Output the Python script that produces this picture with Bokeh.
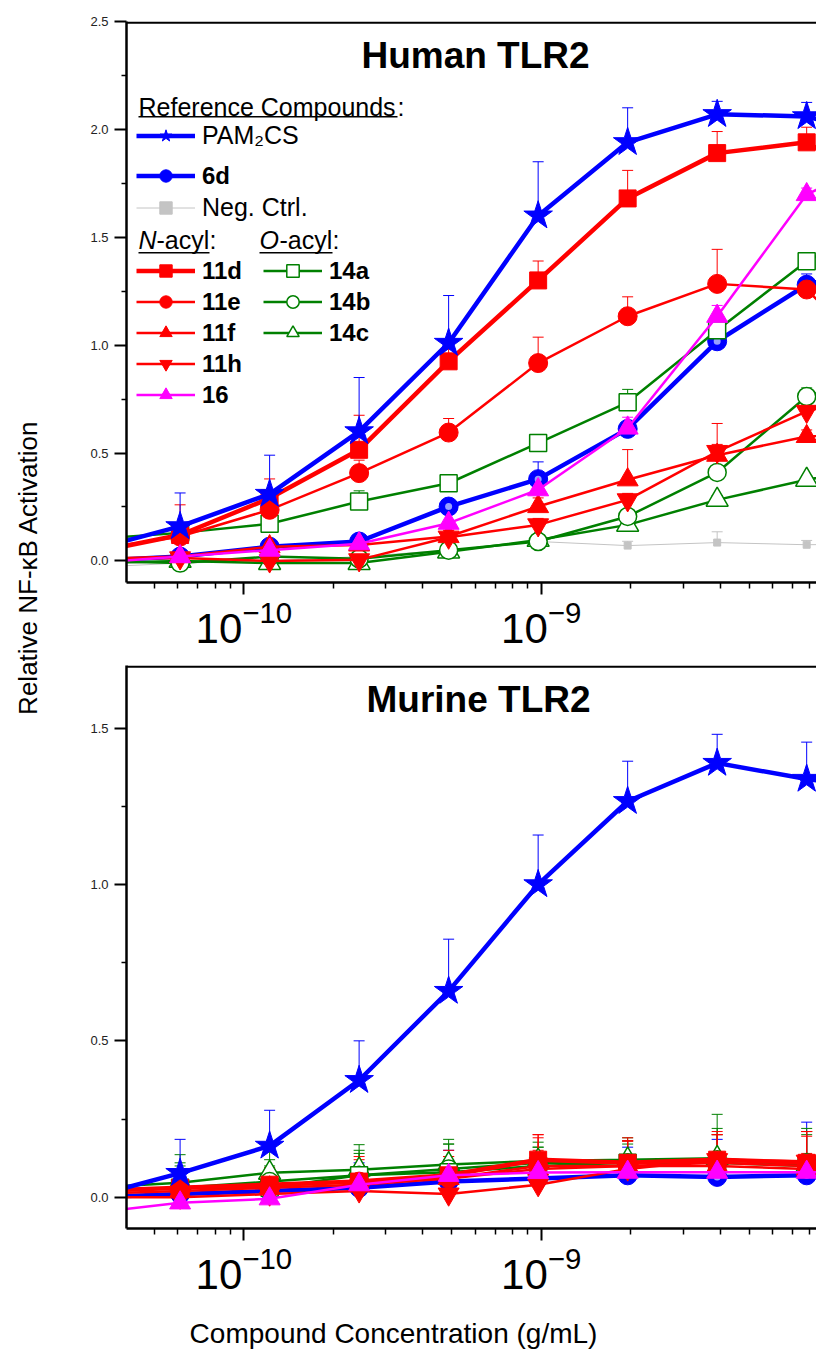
import math
from bokeh.plotting import figure
from bokeh.models import (Range1d, FixedTicker, LogTickFormatter, PrintfTickFormatter,
                          ColumnDataSource, Whisker, TeeHead, Legend, LegendItem, Label,
                          BoxAnnotation)
from bokeh.layouts import row, column
from bokeh.embed import file_html
from bokeh.resources import INLINE

# ---------------- data ----------------
CONC = [3.0517578125e-11, 6.103515625e-11, 1.220703125e-10, 2.44140625e-10, 4.8828125e-10,
        9.765625e-10, 1.953125e-09, 3.90625e-09, 7.8125e-09, 1.5625e-08]

X_TICKS = [1e-10, 1e-9]
X_MINOR = [4e-11, 5e-11, 6e-11, 7e-11, 8e-11, 9e-11,
           2e-10, 3e-10, 4e-10, 5e-10, 6e-10, 7e-10, 8e-10, 9e-10,
           2e-9, 3e-9, 4e-9, 5e-9, 6e-9, 7e-9, 8e-9]
H_TICKS = [0.0, 0.5, 1.0, 1.5, 2.0, 2.5]
H_MINOR = [0.25, 0.75, 1.25, 1.75, 2.25]
M_TICKS = [0.0, 0.5, 1.0, 1.5]
M_MINOR = [0.25, 0.75, 1.25]

# Human TLR2
H_PAM2CS = [0.05, 0.16, 0.31, 0.60, 1.01, 1.60, 1.94, 2.07, 2.06, 1.95]
H_PAM2CS_ERR = [0.05, 0.155, 0.18, 0.25, 0.22, 0.25, 0.16, 0.06, 0.065, 0.05]
H_6D = [0.0, 0.02, 0.066, 0.09, 0.252, 0.379, 0.612, 1.018, 1.28, 1.40]
H_6D_ERR = [0.02, 0.02, 0.02, 0.02, 0.03, 0.08, 0.03, 0.03, 0.05, 0.03]
H_NEG = [-0.03, -0.01, 0.0, 0.02, 0.05, 0.09, 0.071, 0.085, 0.075, 0.08]
H_NEG_ERR = [0.01, 0.01, 0.01, 0.01, 0.02, 0.03, 0.02, 0.05, 0.02, 0.02]
H_11D = [0.037, 0.12, 0.29, 0.515, 0.925, 1.30, 1.68, 1.89, 1.94, 1.70]
H_11D_ERR = [0.05, 0.14, 0.09, 0.16, 0.08, 0.09, 0.13, 0.10, 0.07, 0.05]
H_11E = [0.05, 0.113, 0.237, 0.407, 0.595, 0.917, 1.134, 1.284, 1.258, 0.85]
H_11E_ERR = [0.03, 0.05, 0.05, 0.06, 0.065, 0.12, 0.09, 0.16, 0.05, 0.05]
H_11F = [0.01, 0.02, 0.066, 0.074, 0.113, 0.252, 0.376, 0.49, 0.577, 0.60]
H_11F_ERR = [0.02, 0.03, 0.03, 0.04, 0.03, 0.04, 0.14, 0.05, 0.03, 0.03]
H_11H = [0.01, 0.014, 0.0, 0.005, 0.11, 0.167, 0.283, 0.507, 0.693, 0.80]
H_11H_ERR = [0.02, 0.03, 0.03, 0.03, 0.03, 0.03, 0.03, 0.13, 0.03, 0.03]
H_16 = [-0.01, 0.02, 0.05, 0.08, 0.175, 0.33, 0.616, 1.134, 1.698, 1.90]
H_16_ERR = [0.02, 0.02, 0.03, 0.03, 0.04, 0.04, 0.05, 0.05, 0.03, 0.03]
H_14A = [0.10, 0.13, 0.172, 0.275, 0.36, 0.546, 0.735, 1.069, 1.389, 1.60]
H_14A_ERR = [0.02, 0.03, 0.03, 0.05, 0.03, 0.04, 0.06, 0.03, 0.03, 0.03]
H_14B = [0.0, -0.01, 0.02, 0.01, 0.05, 0.09, 0.206, 0.41, 0.762, 0.90]
H_14B_ERR = [0.01, 0.02, 0.02, 0.02, 0.02, 0.02, 0.02, 0.03, 0.04, 0.03]
H_14C = [-0.01, 0.0, -0.01, -0.01, 0.043, 0.097, 0.167, 0.283, 0.376, 0.45]
H_14C_ERR = [0.01, 0.02, 0.02, 0.02, 0.02, 0.02, 0.02, 0.02, 0.02, 0.02]

# Murine TLR2
M_PAM2CS = [0.0, 0.077, 0.164, 0.374, 0.659, 1.0, 1.266, 1.388, 1.337, 1.30]
M_PAM2CS_ERR = [0.05, 0.108, 0.114, 0.126, 0.166, 0.158, 0.128, 0.092, 0.118, 0.10]
M_6D = [0.0, 0.01, 0.02, 0.03, 0.05, 0.06, 0.07, 0.065, 0.07, 0.07]
M_6D_ERR = [0.03, 0.05, 0.06, 0.08, 0.10, 0.08, 0.09, 0.12, 0.17, 0.10]
M_11D = [0.02, 0.03, 0.04, 0.05, 0.07, 0.12, 0.11, 0.12, 0.11, 0.10]
M_11D_ERR = [0.03, 0.06, 0.05, 0.07, 0.08, 0.08, 0.07, 0.09, 0.10, 0.05]
M_11E = [0.02, 0.03, 0.035, 0.05, 0.06, 0.10, 0.10, 0.11, 0.10, 0.10]
M_11E_ERR = [0.03, 0.05, 0.06, 0.08, 0.07, 0.10, 0.09, 0.09, 0.11, 0.05]
M_11F = [0.01, 0.02, 0.03, 0.04, 0.06, 0.09, 0.10, 0.10, 0.09, 0.09]
M_11F_ERR = [0.03, 0.04, 0.05, 0.06, 0.07, 0.06, 0.08, 0.04, 0.05, 0.05]
M_11H = [0.0, 0.0, 0.01, 0.02, 0.01, 0.04, 0.09, 0.12, 0.115, 0.11]
M_11H_ERR = [0.03, 0.04, 0.05, 0.07, 0.08, 0.15, 0.09, 0.08, 0.08, 0.05]
M_16 = [-0.05, -0.018, -0.005, 0.04, 0.07, 0.079, 0.08, 0.08, 0.08, 0.08]
M_16_ERR = [0.02, 0.03, 0.03, 0.04, 0.05, 0.04, 0.05, 0.06, 0.05, 0.03]
M_14A = [0.02, 0.03, 0.03, 0.07, 0.08, 0.10, 0.11, 0.11, 0.10, 0.10]
M_14A_ERR = [0.03, 0.07, 0.07, 0.07, 0.09, 0.06, 0.07, 0.09, 0.10, 0.05]
M_14B = [0.02, 0.03, 0.05, 0.07, 0.09, 0.11, 0.11, 0.12, 0.11, 0.10]
M_14B_ERR = [0.03, 0.08, 0.07, 0.08, 0.08, 0.05, 0.06, 0.10, 0.10, 0.05]
M_14C = [0.03, 0.046, 0.078, 0.088, 0.105, 0.116, 0.12, 0.125, 0.10, 0.10]
M_14C_ERR = [0.03, 0.09, 0.08, 0.08, 0.08, 0.06, 0.07, 0.14, 0.12, 0.05]

HUMAN = {
    "Neg. Ctrl.": (H_NEG, H_NEG_ERR), "6d": (H_6D, H_6D_ERR),
    "14c": (H_14C, H_14C_ERR), "14b": (H_14B, H_14B_ERR), "14a": (H_14A, H_14A_ERR),
    "11h": (H_11H, H_11H_ERR), "11f": (H_11F, H_11F_ERR), "11e": (H_11E, H_11E_ERR),
    "11d": (H_11D, H_11D_ERR), "16": (H_16, H_16_ERR), "PAM2CS": (H_PAM2CS, H_PAM2CS_ERR),
}
MURINE = {
    "6d": (M_6D, M_6D_ERR),
    "14c": (M_14C, M_14C_ERR), "14b": (M_14B, M_14B_ERR), "14a": (M_14A, M_14A_ERR),
    "11h": (M_11H, M_11H_ERR), "11f": (M_11F, M_11F_ERR), "11e": (M_11E, M_11E_ERR),
    "11d": (M_11D, M_11D_ERR), "16": (M_16, M_16_ERR), "PAM2CS": (M_PAM2CS, M_PAM2CS_ERR),
}

# ---------------- styles ----------------
FONT = "Liberation Sans"
BLUE, RED, MAG, GREEN, GREY = "#0000FF", "#FF0000", "#FF00FF", "#008000", "#C4C4C4"
STYLE = {
    "PAM2CS": dict(color=BLUE, marker="star", size=30, lw=4.5, fill=BLUE, mlw=1),
    "6d": dict(color=BLUE, marker="circle", size=19, lw=4.5, fill=BLUE, mlw=1),
    "Neg. Ctrl.": dict(color=GREY, marker="square", size=7, lw=1, fill=GREY, mlw=1),
    "11d": dict(color=RED, marker="square", size=17, lw=4.5, fill=RED, mlw=1),
    "11e": dict(color=RED, marker="circle", size=19, lw=2.5, fill=RED, mlw=1),
    "11f": dict(color=RED, marker="triangle", size=21, lw=2.5, fill=RED, mlw=1),
    "11h": dict(color=RED, marker="inverted_triangle", size=21, lw=2.5, fill=RED, mlw=1),
    "16": dict(color=MAG, marker="triangle", size=21, lw=2.5, fill=MAG, mlw=1),
    "14a": dict(color=GREEN, marker="square", size=17, lw=2.5, fill="white", mlw=1.5),
    "14b": dict(color=GREEN, marker="circle", size=18, lw=2.5, fill="white", mlw=1.5),
    "14c": dict(color=GREEN, marker="triangle", size=22, lw=2.5, fill="white", mlw=1.5),
}

X_START, X_END = 4.03e-11, 8.43e-9
PLOT_W = 749
BORDER_L = 59
FRAME_W = PLOT_W - BORDER_L
SHIFT = 0.32  # label baseline correction (fraction of font size)


def style_axes(p, yticks, yminor):
    xa = p.xaxis[0]
    xa.ticker = FixedTicker(ticks=X_TICKS, minor_ticks=X_MINOR)
    xa.formatter = LogTickFormatter()
    xa.major_label_text_font = FONT
    xa.major_label_text_font_size = "42px"
    xa.major_label_text_color = "black"
    xa.major_label_standoff = 5
    ya = p.yaxis[0]
    ya.ticker = FixedTicker(ticks=yticks, minor_ticks=yminor)
    ya.formatter = PrintfTickFormatter(format="%.1f")
    ya.major_label_text_font = FONT
    ya.major_label_text_font_size = "13px"
    ya.major_label_text_color = "#222222"
    ya.major_label_standoff = 6
    for a in (xa, ya):
        a.axis_line_width = 2.5
        a.axis_line_color = "black"
        a.major_tick_line_width = 2
        a.minor_tick_line_width = 1.5
        a.major_tick_line_color = "black"
        a.minor_tick_line_color = "black"
        a.major_tick_in = 0
        a.minor_tick_in = 0
        a.major_tick_out = 12
    xa.minor_tick_out = 6
    ya.minor_tick_out = 5
    p.xgrid.visible = False
    p.ygrid.visible = False


def make_panel(data, y_end, height, b_top, b_bottom, yticks, yminor):
    frame_h = height - b_top - b_bottom
    p = figure(width=PLOT_W, height=height, x_axis_type="log",
               x_range=Range1d(X_START, X_END), y_range=Range1d(-0.1, y_end),
               toolbar_location=None, output_backend="svg",
               min_border_left=BORDER_L, min_border_right=0,
               min_border_top=b_top, min_border_bottom=b_bottom)
    p.outline_line_color = None
    # top border line of the frame (right edge lies outside the cropped reference)
    p.add_layout(BoxAnnotation(left=0, right=FRAME_W, bottom=frame_h - 2.2, top=frame_h,
                               left_units="screen", right_units="screen",
                               top_units="screen", bottom_units="screen",
                               fill_color="black", fill_alpha=1, line_color=None))
    style_axes(p, yticks, yminor)
    rends = {}
    for name, (vals, errs) in data.items():
        st = STYLE[name]
        src = ColumnDataSource(dict(x=CONC, y=vals, top=[v + e for v, e in zip(vals, errs)]))
        wk = Whisker(base="x", lower="y", upper="top", source=src, dimension="height",
                     line_color=st["color"], line_width=1,
                     upper_head=TeeHead(size=11, line_color=st["color"], line_width=1),
                     lower_head=None, level="underlay")
        p.add_layout(wk)
        ln = p.line("x", "y", source=src, line_color=st["color"], line_width=st["lw"])
        sc = p.scatter("x", "y", source=src, marker=st["marker"], size=st["size"],
                       fill_color=st["fill"], line_color=st["color"], line_width=st["mlw"])
        if name == "6d":
            # highlight of the shaded sphere symbol
            p.scatter("x", "y", source=src, marker="circle", size=7,
                      fill_color="#A8B0FF", fill_alpha=0.9, line_color=None)
        rends[name] = [ln, sc]
    return p, rends


def label(fig, s, x, y_from_bottom, size, style="normal", align="left", angle=0.0,
          baseline="alphabetic"):
    fig.add_layout(Label(x=x, y=y_from_bottom, x_units="screen", y_units="screen", text=s,
                         text_font=FONT, text_font_size="%dpx" % size, text_font_style=style,
                         text_color="black",
                         text_align=align, text_baseline=baseline, angle=angle))


# ---------------- top panel (Human) ----------------
TOP_H, TOP_BT, TOP_FRAME = 657, 21, 561
top, R = make_panel(HUMAN, 2.5, TOP_H, TOP_BT, TOP_H - TOP_BT - TOP_FRAME, H_TICKS, H_MINOR)
FB = 583  # page y of top frame bottom


def page_y(Y, size):
    return FB - Y + SHIFT * size


label(top, "Human TLR2", 349, page_y(68, 37), 37, "bold", "center")


def leg(items, x, vy, bold, size=24):
    L = Legend(items=[LegendItem(label=lab, renderers=R[n]) for lab, n in items],
               location=(x, vy), orientation="vertical",
               glyph_width=59, glyph_height=31, label_height=31, spacing=0,
               label_standoff=7, padding=0, margin=0,
               border_line_color=None, background_fill_alpha=0,
               label_text_font=FONT, label_text_font_size="%dpx" % size,
               label_text_color="black",
               label_text_font_style="bold" if bold else "normal")
    top.add_layout(L)


leg([("PAM\u2082CS", "PAM2CS")], 10, 431, False, 25)
leg([("6d", "6d")], 10, 391, True)
leg([("Neg. Ctrl.", "Neg. Ctrl.")], 10, 359, False, 25)
leg([("11d", "11d"), ("11e", "11e"), ("11f", "11f"), ("11h", "11h"), ("16", "16")], 10, 172, True)
leg([("14a", "14a"), ("14b", "14b"), ("14c", "14c")], 137, 234, True)


def uline(x0, x1, Y):
    top.add_layout(BoxAnnotation(left=x0, right=x1, bottom=FB - Y - 1.6, top=FB - Y,
                                 left_units="screen", right_units="screen",
                                 top_units="screen", bottom_units="screen",
                                 fill_color="black", fill_alpha=1, line_color=None))


label(top, "Reference Compounds", 12, page_y(115, 25), 25)
label(top, ":", 271, page_y(115, 25), 25)
uline(12, 271, 116.5)
label(top, "N", 12, page_y(248, 25), 25, "italic")
label(top, "-acyl", 30, page_y(248, 25), 25)
label(top, ":", 83, page_y(248, 25), 25)
uline(12, 83, 252.5)
label(top, "O", 133, page_y(248, 25), 25, "italic")
label(top, "-acyl", 153, page_y(248, 25), 25)
label(top, ":", 206, page_y(248, 25), 25)
uline(133, 206, 252.5)

# ---------------- bottom panel (Murine) ----------------
BOT_H, BOT_BT, BOT_FRAME = 646, 8, 563
bot, R2 = make_panel(MURINE, 1.7, BOT_H, BOT_BT, BOT_H - BOT_BT - BOT_FRAME, M_TICKS, M_MINOR)
label(bot, "Murine TLR2", 352, 1229 - 711.7 + SHIFT * 37, 37, "bold", "center")

# ---------------- x-axis title strip ----------------
STRIP_H = 54
strip = figure(width=PLOT_W, height=STRIP_H, toolbar_location=None, output_backend="svg",
               x_range=Range1d(0, 1), y_range=Range1d(0, 1),
               x_axis_location=None, y_axis_location=None, min_border=0)
strip.outline_line_color = None
strip.xgrid.visible = False
strip.ygrid.visible = False
label(strip, "Compound Concentration (g/mL)", 267, 1358 - 1343 + SHIFT * 28, 28, "normal", "center")

# ---------------- y-axis title strip ----------------
LEFT_W = 67
TOTAL_H = TOP_H + BOT_H + STRIP_H
side = figure(width=LEFT_W, height=TOTAL_H, toolbar_location=None, output_backend="svg",
              x_range=Range1d(0, 1), y_range=Range1d(0, 1),
              x_axis_location=None, y_axis_location=None, min_border=0)
side.outline_line_color = None
side.xgrid.visible = False
side.ygrid.visible = False
label(side, "Relative NF-\u03baB Activation", 27, TOTAL_H + 1 - 568, 26, "normal", "center",
      math.pi / 2, "middle")

layout = row(side, column(top, bot, strip))
open("out.html", "w").write(file_html(layout, INLINE))
